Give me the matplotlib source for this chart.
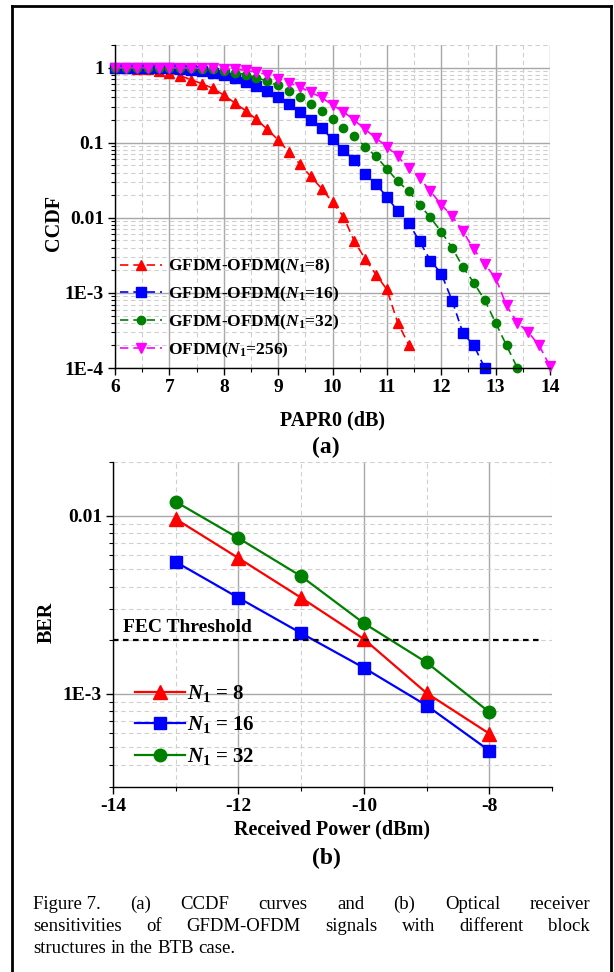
import numpy as np
import matplotlib
matplotlib.use("Agg")
import matplotlib.pyplot as plt
from matplotlib.ticker import FixedLocator, FixedFormatter, MultipleLocator, LogLocator, NullFormatter
from matplotlib.lines import Line2D

plt.rcParams['font.family'] = ['Liberation Serif', 'DejaVu Serif']
plt.rcParams['font.weight'] = 'bold'
plt.rcParams['axes.labelweight'] = 'bold'
plt.rcParams['mathtext.fontset'] = 'custom'
plt.rcParams['mathtext.rm'] = 'Liberation Serif:bold'
plt.rcParams['mathtext.it'] = 'Liberation Serif:italic:bold'
plt.rcParams['mathtext.bf'] = 'Liberation Serif:bold'

# ---- (a) CCDF data ----
papr = [6.0, 6.2, 6.4, 6.6, 6.8, 7.0, 7.2, 7.4, 7.6, 7.8,
        8.0, 8.2, 8.4, 8.6, 8.8, 9.0, 9.2, 9.4, 9.6, 9.8,
        10.0, 10.2, 10.4, 10.6, 10.8, 11.0, 11.2, 11.4, 11.6, 11.8,
        12.0, 12.2, 12.4, 12.6, 12.8, 13.0, 13.2, 13.4, 13.6, 13.8, 14.0]

ccdf_n8 = [0.99, 0.98, 0.97, 0.95, 0.91, 0.86, 0.78, 0.69, 0.61, 0.53,
           0.43, 0.34, 0.267, 0.205, 0.151, 0.109, 0.0748, 0.0519, 0.0356, 0.0245,
           0.0161, 0.0104, 0.0049, 0.00284, 0.00175, 0.00111, 0.0004, 0.000205]

ccdf_n16 = [1.0, 1.0, 0.995, 0.99, 0.985, 0.975, 0.96, 0.93, 0.89, 0.84,
            0.79, 0.73, 0.646, 0.566, 0.486, 0.401, 0.324, 0.259, 0.200, 0.156,
            0.111, 0.0804, 0.058, 0.0386, 0.0282, 0.019, 0.0123, 0.0085, 0.0049, 0.0027,
            0.00181, 0.00079, 0.00029, 0.0002, 0.0001]

ccdf_n32 = [1.0, 1.0, 1.0, 1.0, 0.995, 0.99, 0.985, 0.975, 0.965, 0.945,
            0.91, 0.86, 0.808, 0.737, 0.659, 0.578, 0.486, 0.401, 0.324, 0.267,
            0.205, 0.156, 0.121, 0.0889, 0.0656, 0.045, 0.0306, 0.0226, 0.015, 0.0101,
            0.0065, 0.0040, 0.0022, 0.00136, 0.0008, 0.0004, 0.0002, 0.0001]

ccdf_ofdm = [1.0, 1.0, 1.0, 1.0, 1.0, 1.0, 0.995, 0.99, 0.985, 0.975,
             0.96, 0.945, 0.922, 0.87, 0.808, 0.715, 0.627, 0.554, 0.467, 0.401,
             0.317, 0.259, 0.200, 0.151, 0.115, 0.089, 0.0656, 0.0459, 0.0339, 0.0226,
             0.015, 0.0105, 0.0066, 0.0038, 0.0024, 0.00158, 0.00068, 0.0004, 0.0003, 0.0002,
             0.000105]

ccdf_labels = ['GFDM-OFDM($N_1$=8)', 'GFDM-OFDM($N_1$=16)',
               'GFDM-OFDM($N_1$=32)', 'OFDM($N_1$=256)']

# ---- (b) BER data ----
rx_power = [-13, -12, -11, -10, -9, -8]
ber_n8 = [0.00958, 0.00578, 0.00346, 0.00203, 0.00101, 0.000598]
ber_n16 = [0.0055, 0.00346, 0.00219, 0.0014, 0.00086, 0.00048]
ber_n32 = [0.01197, 0.00748, 0.00457, 0.00249, 0.0015, 0.00079]
ber_labels = ['$N_1$ = 8', '$N_1$ = 16', '$N_1$ = 32']
fec_threshold = 2e-3

W, H = 614, 972
fig = plt.figure(figsize=(W / 100, H / 100), dpi=100)


def px_axes(left, top, right, bottom):
    return fig.add_axes([left / W, 1 - bottom / H, (right - left) / W, (bottom - top) / H])


def style_axes(ax):
    for s in ['top', 'right']:
        ax.spines[s].set_visible(False)
    for s in ['left', 'bottom']:
        ax.spines[s].set_linewidth(1.0)
    ax.tick_params(which='major', direction='out', length=5, width=1.0, labelsize=14, pad=3)
    ax.tick_params(which='minor', direction='out', length=3, width=0.8)
    ax.grid(True, which='major', color='#a8a8a8', lw=1.0, ls='-')
    ax.grid(True, which='minor', color='#cfcfcf', lw=0.8, ls=(0, (4, 3)))
    ax.set_axisbelow(True)


# ================= (a) =================
ax1 = px_axes(115, 45, 550, 368)
style_axes(ax1)
ax1.set_yscale('log')
ax1.set_xlim(6, 14)
ax1.set_ylim(1e-4, 2)
ax1.xaxis.set_major_locator(MultipleLocator(1))
ax1.xaxis.set_minor_locator(MultipleLocator(0.5))
ax1.yaxis.set_major_locator(FixedLocator([1e-4, 1e-3, 1e-2, 1e-1, 1]))
ax1.yaxis.set_major_formatter(FixedFormatter(['1E-4', '1E-3', '0.01', '0.1', '1']))
ax1.yaxis.set_minor_locator(LogLocator(base=10, subs=np.arange(2, 10), numticks=20))
ax1.yaxis.set_minor_formatter(NullFormatter())

series_a = [(ccdf_n8, '#ff0000', '^'), (ccdf_n16, '#0000ff', 's'),
            (ccdf_n32, '#008000', 'o'), (ccdf_ofdm, '#ff00ff', 'v')]
for (vals, col, mk), lab in zip(series_a, ccdf_labels):
    ax1.plot(papr[:len(vals)], vals, color=col, ls=(0, (5, 3)), lw=1.2,
             marker=mk, ms=6.5 if mk != 'o' else 6, mec=col, mfc=col, label=lab, clip_on=False)

ax1.legend(loc='upper left', bbox_to_anchor=(5 / 435, (368 - 257) / 323), frameon=False,
           fontsize=12.5, borderpad=0, borderaxespad=0, labelspacing=0.5,
           handlelength=2.4, handletextpad=0.35, markerscale=1.0)
ax1.set_xlabel('PAPR0 (dB)', fontsize=14.5, labelpad=10)
ax1.set_ylabel('CCDF', fontsize=14.5)
ax1.yaxis.set_label_coords((64 - 115) / 435, (368 - 223) / 323)
fig.text(326 / W, 1 - 447 / H, '(a)', ha='center', va='center', fontsize=17, fontweight='bold')

# ================= (b) =================
ax2 = px_axes(113, 462, 552, 787)
style_axes(ax2)
ax2.set_yscale('log')
ax2.set_xlim(-14, -7)
ax2.set_ylim(3e-4, 2e-2)
ax2.xaxis.set_minor_locator(MultipleLocator(1))
ax2.yaxis.set_major_locator(FixedLocator([1e-3, 1e-2]))
ax2.yaxis.set_major_formatter(FixedFormatter(['1E-3', '0.01']))
ax2.yaxis.set_minor_locator(LogLocator(base=10, subs=np.arange(2, 10), numticks=20))
ax2.yaxis.set_minor_formatter(NullFormatter())
ax2.set_xticks([-14, -12, -10, -8])
ax2.set_xticklabels(['-14', '-12', '-10', '-8'])

series_b = [(ber_n8, '#ff0000', '^', 10), (ber_n16, '#0000ff', 's', 9),
            (ber_n32, '#008000', 'o', 9)]
for (vals, col, mk, ms), lab in zip(series_b, ber_labels):
    ax2.plot(rx_power, vals, color=col, lw=1.6, marker=mk, ms=ms, mec=col, mfc=col,
             label=lab, clip_on=False)

ax2.plot([-14, -7.17], [fec_threshold, fec_threshold], color='black', lw=1.6,
         ls=(0, (2.5, 2)))
ax2.text(-13.84, 2.37e-3, 'FEC Threshold', fontsize=14, fontweight='bold',
         ha='left', va='center')

ax2.legend(loc='upper left', bbox_to_anchor=(22 / 439, (787 - 683) / 325), frameon=False,
           fontsize=15, borderpad=0, borderaxespad=0, labelspacing=0.5,
           handlelength=2.4, handletextpad=0.1)
ax2.set_xlabel('Received Power (dBm)', fontsize=14.5, labelpad=3)
ax2.set_ylabel('BER', fontsize=14.5)
ax2.yaxis.set_label_coords((57 - 113) / 439, (787 - 622) / 325)
fig.text(326 / W, 1 - 858 / H, '(b)', ha='center', va='center', fontsize=17, fontweight='bold')

# ================= caption (justified) =================
cap_lines = ['Figure 7.  (a) CCDF curves and (b) Optical receiver',
             'sensitivities of GFDM-OFDM signals with different block',
             'structures in the BTB case.']
cap_y = [904, 926, 948]
cap_size = 13.5
x_left, x_right = 33, 590
renderer = fig.canvas.get_renderer()
for i, (line, yy) in enumerate(zip(cap_lines, cap_y)):
    words = line.split()
    if i == 0:
        words = ['Figure 7.'] + line.split()[2:]
    texts = [fig.text(0, 1 - yy / H, w, fontsize=cap_size, fontweight='normal',
                      ha='left', va='center') for w in words]
    widths = [t.get_window_extent(renderer).width for t in texts]
    if i < len(cap_lines) - 1:
        gap = (x_right - x_left - sum(widths)) / (len(words) - 1)
    else:
        gap = cap_size * 100 / 72 * 0.25
    x = x_left
    for t, w in zip(texts, widths):
        t.set_x(x / W)
        x += w + gap

# outer frame
for xs, ys in [([12, 12], [6, H]), ([12, 611], [6, 6]), ([611, 611], [6, H])]:
    fig.add_artist(Line2D([v / W for v in xs], [1 - v / H for v in ys],
                          transform=fig.transFigure, color='black', lw=2))

fig.savefig('out.png', dpi=100)
